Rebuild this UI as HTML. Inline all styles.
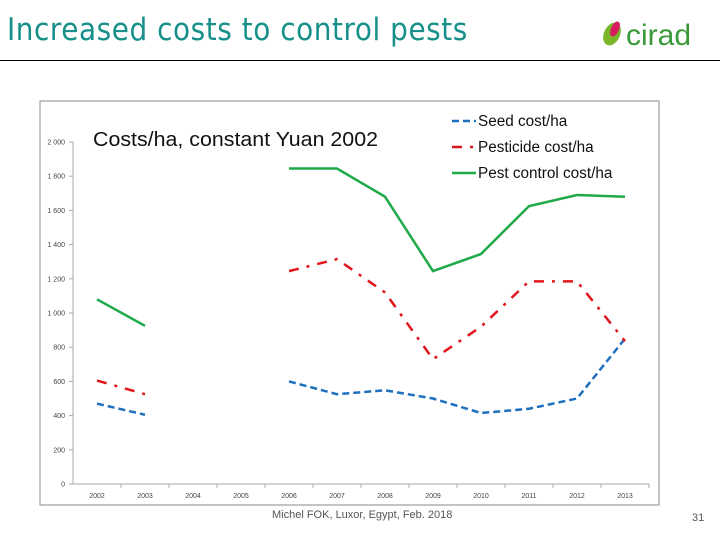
<!DOCTYPE html>
<html><head><meta charset="utf-8"><style>
body{margin:0;width:720px;height:540px;background:#fff;overflow:hidden;position:relative;font-family:"Liberation Sans",sans-serif}
</style></head><body>
<div style="position:absolute;left:7px;top:12px;font-size:31px;color:#17908a;font-family:'DejaVu Sans Condensed','Liberation Sans Narrow','Liberation Sans',sans-serif;letter-spacing:0.56px">Increased costs to control pests</div>
<div style="position:absolute;left:600px;top:16px;width:115px;height:34px">
<svg width="115" height="34"><ellipse cx="12" cy="18" rx="8" ry="12" fill="#7ab52a" transform="rotate(25 12 18)"/><ellipse cx="15" cy="13" rx="4" ry="8" fill="#d81b60" transform="rotate(25 15 13)"/>
<text x="26" y="29" font-size="30" fill="#3a9a3a" font-family="Liberation Sans Narrow, Liberation Sans, sans-serif">cirad</text></svg></div>
<div style="position:absolute;left:0;top:60px;width:720px;height:1px;background:#000"></div>
<svg id="chart" width="720" height="540" style="position:absolute;left:0;top:0"></svg>
<div style="position:absolute;left:272px;top:509px;font-size:11px;color:#555">Michel FOK, Luxor, Egypt, Feb. 2018</div>
<div style="position:absolute;left:692px;top:512px;font-size:11px;color:#555">31</div>
<script>
const years=["2002","2003","2004","2005","2006","2007","2008","2009","2010","2011","2012","2013"];
const yTicks=[0,200,400,600,800,1000,1200,1400,1600,1800,2000];
const seed=[470,405,null,null,600,525,548,500,415,440,500,850];
const pesticide=[605,525,null,null,1245,1315,1120,730,920,1185,1185,835];
const pestControl=[1080,925,null,null,1845,1845,1680,1245,1345,1625,1690,1680];
const NS="http://www.w3.org/2000/svg";
const svg=document.getElementById("chart");
function mk(t,a,p){const e=document.createElementNS(NS,t);for(const k in a)e.setAttribute(k,a[k]);(p||svg).appendChild(e);return e;}
const x0=73,step=48;
const xs=i=>x0+step*(i+0.5);
const ys=v=>484-v*0.171;
let fr=mk("rect",{x:40,y:101,width:619,height:404,fill:"#fff",stroke:"#888","stroke-width":1});


mk("line",{x1:x0,y1:ys(0),x2:x0,y2:ys(2000),stroke:"#aaa"});
mk("line",{x1:x0,y1:ys(0),x2:x0+step*12,y2:ys(0),stroke:"#aaa"});
yTicks.forEach(v=>{
 mk("line",{x1:x0-4,y1:ys(v),x2:x0,y2:ys(v),stroke:"#aaa"});
 const t=mk("text",{x:x0-8,y:ys(v)+2.5,"font-size":7,fill:"#444","text-anchor":"end"});t.textContent=v>=1000?String(v).replace(/(\d)(\d{3})$/,"$1 $2"):v;
 
 
});
years.forEach((y,i)=>{
 mk("line",{x1:x0+step*(i+1),y1:ys(0),x2:x0+step*(i+1),y2:ys(0)+4,stroke:"#aaa"});
 const t=mk("text",{x:xs(i),y:498,"font-size":7,fill:"#444","text-anchor":"middle"});t.textContent=y;
 
 
});
const ct=mk("text",{x:93,y:146,"font-size":20,fill:"#111",textLength:285,lengthAdjust:"spacingAndGlyphs"});ct.textContent="Costs/ha, constant Yuan 2002";


function series(data,color,dash,name){
 let segs=[],cur=[];
 data.forEach((v,i)=>{if(v==null){if(cur.length)segs.push(cur);cur=[];}else cur.push(xs(i)+","+ys(v));});
 if(cur.length)segs.push(cur);
 segs.forEach(s=>{const p=mk("polyline",{points:s.join(" "),fill:"none",stroke:color,"stroke-width":2.5,"stroke-dasharray":dash});
 
 });
}
series(seed,"#1f6fbf","7 4","seed-cost-line");
series(pesticide,"#e0161c","10 8 3 8","pesticide-cost-line");
series(pestControl,"#1faa4a","none","pest-control-cost-line");
const leg=[["Seed cost/ha","#1f6fbf","7 4"],["Pesticide cost/ha","#e0161c","10 8 3 8"],["Pest control cost/ha","#1faa4a","none"]];
leg.forEach((l,i)=>{
 const y=121+i*26;
 mk("line",{x1:452,y1:y,x2:476,y2:y,stroke:l[1],"stroke-width":2.5,"stroke-dasharray":l[2]});
 const t=mk("text",{x:478,y:y+5,"font-size":15.3,fill:"#111"});t.textContent=l[0];
 
 
});
</script>
</body></html>
